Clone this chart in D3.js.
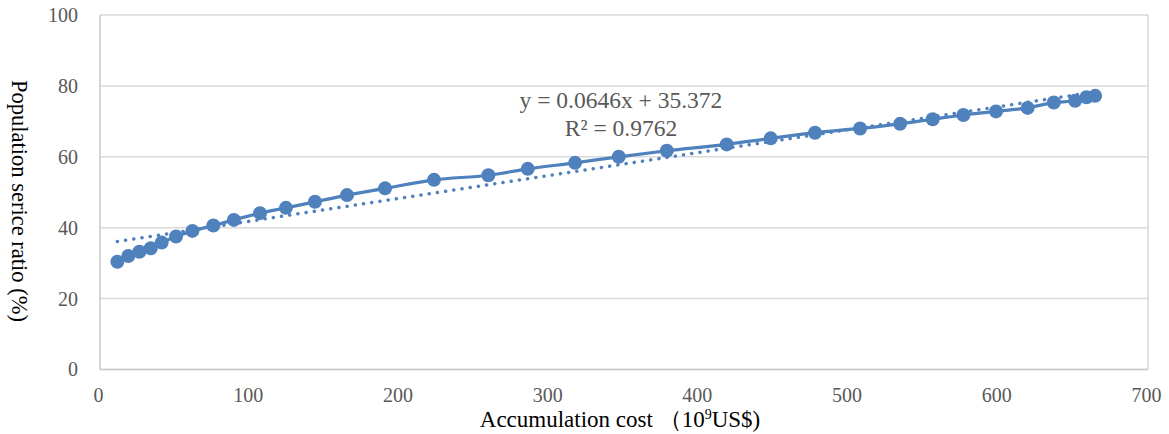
<!DOCTYPE html>
<html>
<head>
<meta charset="utf-8">
<script src="https://cdn.jsdelivr.net/npm/d3@7"></script>
<style>
  body { margin: 0; background: #fff; }
  text { font-family: "Liberation Serif", "Times New Roman", serif; }
</style>
</head>
<body>
<svg id="chart" width="1169" height="434"></svg>
<script>
// accumulation cost (10^9 US$)
var costs = [11.6, 18.9, 26.3, 33.9, 41.2, 50.8, 61.7, 75.7, 89.4, 106.9, 124.2,
  143.6, 165.0, 190.4, 223.1, 259.4, 285.7, 317.3, 346.5, 378.6, 418.6, 448.0,
  477.6, 507.7, 534.4, 556.2, 576.7, 598.5, 619.6, 637.1, 651.3, 658.9, 664.7]
// population service ratio (%)
var ratios = [30.4, 32.0, 33.2, 34.2, 35.8, 37.5, 39.1, 40.6, 42.2, 44.1, 45.6,
  47.3, 49.2, 51.1, 53.5, 54.8, 56.6, 58.3, 60.0, 61.7, 63.5, 65.2,
  66.8, 68.0, 69.3, 70.6, 71.8, 72.8, 73.8, 75.3, 75.8, 76.8, 77.2]
var xTicks = [0, 100, 200, 300, 400, 500, 600, 700]
var yTicks = [0, 20, 40, 60, 80, 100]
var slope = 0.0646, intercept = 35.372
var eqLines = ["y = 0.0646x + 35.372", "R² = 0.9762"]

var blue = "#4f81bd"
var margin = {top: 15, right: 21, bottom: 64.5, left: 100}
var width = 1169 - margin.left - margin.right
var height = 434 - margin.top - margin.bottom

var data = []
for (var i = 0; i < costs.length; i++) {
  data.push([costs[i], ratios[i]])
}

var x = d3.scaleLinear().domain([0, 700]).range([0, width])
var y = d3.scaleLinear().domain([0, 100]).range([height, 0])

var svg = d3.select("#chart")
var main = svg.append("g")
  .attr("transform", "translate(" + margin.left + "," + margin.top + ")")

// horizontal gridlines
main.append("g")
  .selectAll("line")
  .data(yTicks)
  .enter().append("line")
  .attr("x1", 0).attr("x2", width)
  .attr("y1", function (d) { return y(d) }).attr("y2", function (d) { return y(d) })
  .attr("stroke", "#d9d9d9").attr("stroke-width", 1.5)

// plot frame: left, right, bottom
main.append("line").attr("x1", 0).attr("x2", 0).attr("y1", 0).attr("y2", height)
  .attr("stroke", "#c9c9c9").attr("stroke-width", 1.5)
main.append("line").attr("x1", width).attr("x2", width).attr("y1", 0).attr("y2", height)
  .attr("stroke", "#d9d9d9").attr("stroke-width", 1.5)
main.append("line").attr("x1", 0).attr("x2", width).attr("y1", height).attr("y2", height)
  .attr("stroke", "#c9c9c9").attr("stroke-width", 1.5)

// axes (labels only)
var xAxis = d3.axisBottom(x).tickValues(xTicks).tickSize(0).tickPadding(18)
var gx = main.append("g").attr("transform", "translate(-2," + height + ")").call(xAxis)
var yAxis = d3.axisLeft(y).tickValues(yTicks).tickSize(0).tickPadding(22)
var gy = main.append("g").call(yAxis)
;[gx, gy].forEach(function (g) {
  g.select(".domain").remove()
  g.selectAll("text")
    .attr("fill", "#595959")
    .style("font-size", "20px")
    .style("font-family", "'Liberation Serif', serif")
})

// trend line
var xMin = d3.min(costs), xMax = d3.max(costs)
main.append("line")
  .attr("x1", x(xMin)).attr("y1", y(slope * xMin + intercept))
  .attr("x2", x(xMax)).attr("y2", y(slope * xMax + intercept))
  .attr("stroke", blue).attr("stroke-width", 3.5)
  .attr("stroke-linecap", "round").attr("stroke-dasharray", "0.1 8.2")

// series line
var line = d3.line()
  .x(function (d) { return x(d[0]) })
  .y(function (d) { return y(d[1]) })
  .curve(d3.curveMonotoneX)
main.append("path")
  .datum(data)
  .attr("d", line)
  .attr("fill", "none")
  .attr("stroke", blue)
  .attr("stroke-width", 3.2)

main.append("g")
  .selectAll("circle")
  .data(data)
  .enter().append("circle")
  .attr("cx", function (d) { return x(d[0]) })
  .attr("cy", function (d) { return y(d[1]) })
  .attr("r", 7)
  .attr("fill", blue)

// equation label
main.append("g")
  .selectAll("text")
  .data(eqLines)
  .enter().append("text")
  .attr("x", 521)
  .attr("y", function (d, i) { return 93 + i * 28 })
  .attr("text-anchor", "middle")
  .attr("fill", "#595959")
  .style("font-size", "23.5px")
  .text(function (d) { return d })

// axis titles
svg.append("text")
  .attr("transform", "translate(12,201) rotate(90)")
  .attr("text-anchor", "middle")
  .attr("fill", "#000")
  .style("font-size", "22.5px")
  .text("Population serice ratio (%)")

var xt = svg.append("text")
  .attr("x", 620).attr("y", 427)
  .attr("text-anchor", "middle")
  .attr("fill", "#000")
  .style("font-size", "23px")
xt.append("tspan").text("Accumulation cost   （10")
xt.append("tspan").attr("dy", -8).style("font-size", "14px").text("9")
xt.append("tspan").attr("dy", 8).text("US$)")
</script>
</body>
</html>
